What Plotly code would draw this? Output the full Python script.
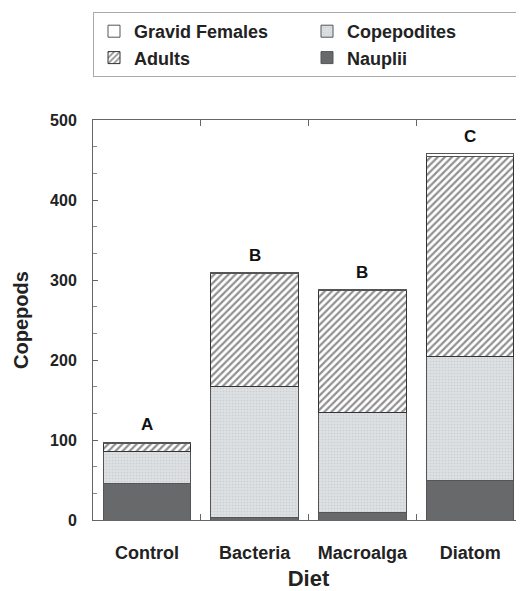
import plotly.graph_objects as go

diets = ["Control", "Bacteria", "Macroalga", "Diatom"]
nauplii = [46, 3, 9, 50]
copepodites = [40, 164, 125, 154]
adults = [10, 141, 153, 250]
gravid = [1, 1, 1, 4]
letters = ["A", "B", "B", "C"]
y_ticks = [0, 100, 200, 300, 400, 500]
y_minor = [33.3, 66.7, 133.3, 166.7, 233.3, 266.7, 333.3, 366.7, 433.3, 466.7]

FONT = "Liberation Sans"
fig = go.Figure()
line = dict(color="#555555", width=1)

fig.add_bar(x=diets, y=nauplii, name="Nauplii", legendrank=4,
            marker=dict(color="#67696b", line=line))
fig.add_bar(x=diets, y=copepodites, name="Copepodites", legendrank=2,
            marker=dict(color="#dde0e3", line=line,
                        pattern=dict(shape=".", fgcolor="#b8bcc0", bgcolor="#dde0e3",
                                     size=3, solidity=0.25)))
fig.add_bar(x=diets, y=adults, name="Adults", legendrank=3,
            marker=dict(color="white", line=dict(color="#333333", width=1),
                        pattern=dict(shape="/", fgcolor="#222222", bgcolor="white",
                                     size=5, solidity=0.45)))
fig.add_bar(x=diets, y=gravid, name="Gravid Females", legendrank=1,
            marker=dict(color="white", line=line))

totals = [a + b + c + d for a, b, c, d in zip(nauplii, copepodites, adults, gravid)]
for d, t, l in zip(diets, totals, letters):
    fig.add_annotation(x=d, y=t, text=l, showarrow=False, yanchor="bottom", yshift=6,
                       font=dict(family=FONT, size=17, color="#111111", weight="bold"))

fig.update_layout(
    width=516, height=583,
    barmode="stack", bargap=0.19,
    plot_bgcolor="white", paper_bgcolor="white",
    margin=dict(l=85, r=0, t=112, b=71, autoexpand=False),
    font=dict(family=FONT, size=16, color="#222222"),
    showlegend=True,
    legend=dict(orientation="h", x=0, xanchor="left", y=1.27, yanchor="top",
                entrywidth=168, bordercolor="#aaaaaa", borderwidth=1,
                font=dict(family=FONT, size=18, color="#222222", weight="bold"),
                traceorder="normal"),
)
fig.update_xaxes(
    title=dict(text="Diet", font=dict(family=FONT, size=22, weight="bold"), standoff=11),
    tickfont=dict(family=FONT, size=18, weight="bold"), automargin=False,
    showline=True, linecolor="#666666", linewidth=1, mirror="ticks",
    ticks="inside", ticklen=6, tickcolor="#666666", tickson="boundaries",
    ticklabelstandoff=16,
)
fig.update_yaxes(
    title=dict(text="Copepods", font=dict(family=FONT, size=20, weight="bold"), standoff=16),
    range=[0, 500], tickvals=y_ticks, automargin=False,
    tickfont=dict(family=FONT, size=16, weight="bold"),
    showline=True, linecolor="#666666", linewidth=1, mirror="ticks",
    ticks="inside", ticklen=5, tickcolor="#666666", showgrid=False, zeroline=False,
    ticklabelstandoff=12,
    minor=dict(tickvals=y_minor, ticks="inside", ticklen=4, tickcolor="#888888"),
)
fig.write_html("out.html")
